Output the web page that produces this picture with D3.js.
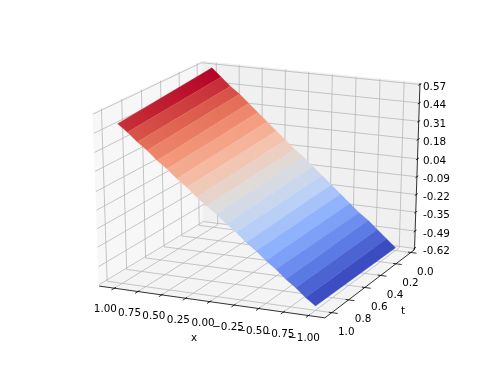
<!DOCTYPE html>
<html lang="en">
<head>
<meta charset="utf-8">
<title>Surface u(x, t)</title>
<script src="https://cdn.jsdelivr.net/npm/d3@7"></script>
<style>
  body { margin: 0; background: #fff; }
  svg { filter: blur(0.3px); }
  text { font-family: "DejaVu Sans", sans-serif; font-size: 10.4px; fill: #000; }
</style>
</head>
<body>
<script>
// surface values, one row per end of the t range
var xValues = [1.0, 0.9, 0.8, 0.7, 0.6, 0.5, 0.4, 0.3, 0.2, 0.1, 0.0, -0.1, -0.2, -0.3, -0.4, -0.5, -0.6, -0.7, -0.8, -0.9, -1.0];
var tValues = [0, 1];
var zAtT0 = [0.56, 0.50, 0.44, 0.39, 0.33, 0.27, 0.21, 0.15, 0.09, 0.03, -0.02, -0.08, -0.14, -0.20, -0.26, -0.32, -0.38, -0.43, -0.49, -0.55, -0.61];
var zAtT1 = [0.49, 0.44, 0.38, 0.33, 0.27, 0.22, 0.16, 0.11, 0.05, 0.00, -0.05, -0.11, -0.16, -0.22, -0.27, -0.33, -0.38, -0.44, -0.49, -0.55, -0.60];

var xTicks = [1, 0.75, 0.5, 0.25, 0, -0.25, -0.5, -0.75, -1];
var xTickLabels = ["1.00", "0.75", "0.50", "0.25", "0.00", "\u22120.25", "\u22120.50", "\u22120.75", "\u22121.00"];
var tTicks = [0, 0.2, 0.4, 0.6, 0.8, 1];
var tTickLabels = ["0.0", "0.2", "0.4", "0.6", "0.8", "1.0"];
var zTicks = [0.57, 0.44, 0.31, 0.18, 0.04, -0.09, -0.22, -0.35, -0.49, -0.62];
var zTickLabels = ["0.57", "0.44", "0.31", "0.18", "0.04", "-0.09", "-0.22", "-0.35", "-0.49", "-0.62"];

var width = 498, height = 374;

// data to unit box
var xLim = [-1.163, 1.163], tLim = [-0.05, 1.08], zLim = [-0.63, 0.58];
var xBox = d3.scaleLinear().domain(xLim).range([-0.5, 0.5]);
var tBox = d3.scaleLinear().domain(tLim).range([-0.5, 0.5]);
var zBox = d3.scaleLinear().domain(zLim).range([-0.5, 0.5]);

// camera, same idea as mplot3d
var azim = 114 * Math.PI / 180, elev = 21 * Math.PI / 180, dist = 10;
var cx = 260.5, cy = 184, scaleX = 243, scaleY = 182;
var sa = Math.sin(azim), ca = Math.cos(azim), se = Math.sin(elev), ce = Math.cos(elev);

function project(x, t, z) {
    var a = xBox(x), b = tBox(t), c = zBox(z);
    var xv = -sa * a + ca * b;
    var yv = -ca * se * a - sa * se * b + ce * c;
    var d = dist - (ca * ce * a + sa * ce * b + se * c);
    return [cx + scaleX * dist * xv / d, cy - scaleY * dist * yv / d];
}

var coolwarm = d3.scaleLinear()
    .domain([0, 0.125, 0.25, 0.375, 0.5, 0.625, 0.75, 0.875, 1])
    .range(["#3b4cc0", "#6282ea", "#8db0fe", "#c0d4f5", "#dddddd", "#f5c4ad", "#f4987a", "#de604d", "#b40426"]);

var svg = d3.select("body").append("svg")
    .attr("width", width)
    .attr("height", height);
var defs = svg.append("defs");

var line = d3.line();

// panes
function pane(points, fill) {
    svg.append("path")
        .attr("d", line(points.map(function(p) { return project(p[0], p[1], p[2]); })) + "Z")
        .attr("fill", fill)
        .attr("stroke", fill)
        .attr("stroke-width", 1);
}
var x0 = xLim[0], x1 = xLim[1], t0 = tLim[0], t1 = tLim[1], z0 = zLim[0], z1 = zLim[1];
pane([[x1, t0, z0], [x1, t1, z0], [x1, t1, z1], [x1, t0, z1]], "#f7f7f7");
pane([[x0, t0, z0], [x1, t0, z0], [x1, t0, z1], [x0, t0, z1]], "#f0f0f0");
pane([[x0, t0, z0], [x1, t0, z0], [x1, t1, z0], [x0, t1, z0]], "#f4f4f4");

// grid lines
function grid(points) {
    svg.append("path")
        .attr("d", line(points.map(function(p) { return project(p[0], p[1], p[2]); })))
        .attr("fill", "none")
        .attr("stroke", "#b8b8b8")
        .attr("stroke-width", 0.8);
}
xTicks.forEach(function(v) { grid([[v, t1, z0], [v, t0, z0], [v, t0, z1]]); });
tTicks.forEach(function(v) { grid([[x0, v, z0], [x1, v, z0], [x1, v, z1]]); });
zTicks.forEach(function(v) { grid([[x1, t1, v], [x1, t0, v], [x0, t0, v]]); });

// axis lines
function axisLine(a, b) {
    var p = project(a[0], a[1], a[2]), q = project(b[0], b[1], b[2]);
    svg.append("line")
        .attr("x1", p[0]).attr("y1", p[1]).attr("x2", q[0]).attr("y2", q[1])
        .attr("stroke", "#000").attr("stroke-width", 0.8);
}
axisLine([x1, t1, z0], [x0, t1, z0]);
axisLine([x0, t1, z0], [x0, t0, z0]);
axisLine([x0, t0, z0], [x0, t0, z1]);

// ticks and labels, x labels drift a little along the axis
var xLabelDx = d3.scaleLinear().domain([1, -1]).range([-9, -4.5]);
var xLabelDy = d3.scaleLinear().domain([1, -1]).range([24, 25.4]);
xTicks.forEach(function(v, i) {
    axisLine([v, t1 - 0.015, z0], [v, t1 + 0.03, z0]);
    var p = project(v, t1, z0);
    svg.append("text").attr("x", p[0] + xLabelDx(v)).attr("y", p[1] + xLabelDy(v)).attr("text-anchor", "middle").text(xTickLabels[i]);
});
tTicks.forEach(function(v, i) {
    axisLine([x0 + 0.03, v, z0], [x0 - 0.06, v, z0]);
    var p = project(x0, v, z0);
    svg.append("text").attr("x", p[0] + 14.5).attr("y", p[1] + 22.5).attr("text-anchor", "middle").text(tTickLabels[i]);
});
zTicks.forEach(function(v, i) {
    axisLine([x0, t0 + 0.02, v], [x0, t0 - 0.02, v]);
    var p = project(x0, t0, v);
    svg.append("text").attr("x", 423).attr("y", p[1] + 5.5).text(zTickLabels[i]);
});

svg.append("text").attr("x", 194).attr("y", 341).attr("text-anchor", "middle").text("x");
svg.append("text").attr("x", 403).attr("y", 314).attr("text-anchor", "middle").text("t");

// surface, one quad per x step, colour runs along t inside each band
var quads = [];
for (var i = 0; i < xValues.length - 1; i++) {
    quads.push({
        id: "band" + i,
        corners: [
            project(xValues[i], tValues[0], zAtT0[i]),
            project(xValues[i + 1], tValues[0], zAtT0[i + 1]),
            project(xValues[i + 1], tValues[1], zAtT1[i + 1]),
            project(xValues[i], tValues[1], zAtT1[i])
        ],
        meanT0: (zAtT0[i] + zAtT0[i + 1]) / 2,
        meanT1: (zAtT1[i] + zAtT1[i + 1]) / 2
    });
}
var colorScale = d3.scaleLinear()
    .domain([d3.min(quads, function(d) { return Math.min(d.meanT0, d.meanT1); }),
             d3.max(quads, function(d) { return Math.max(d.meanT0, d.meanT1); })])
    .range([0, 1]);

quads.forEach(function(d) {
    var c = d.corners;
    var g = defs.append("linearGradient")
        .attr("id", d.id)
        .attr("gradientUnits", "userSpaceOnUse")
        .attr("x1", (c[0][0] + c[1][0]) / 2).attr("y1", (c[0][1] + c[1][1]) / 2)
        .attr("x2", (c[2][0] + c[3][0]) / 2).attr("y2", (c[2][1] + c[3][1]) / 2);
    g.append("stop").attr("offset", 0).attr("stop-color", coolwarm(colorScale(d.meanT0)));
    g.append("stop").attr("offset", 1).attr("stop-color", coolwarm(colorScale(d.meanT1)));
});

svg.selectAll("path.quad")
    .data(quads)
    .enter()
    .append("path")
    .attr("class", "quad")
    .attr("d", function(d) { return line(d.corners) + "Z"; })
    .attr("fill", function(d) { return "url(#" + d.id + ")"; })
    .attr("stroke", function(d) { return "url(#" + d.id + ")"; })
    .attr("stroke-width", 0.3);
</script>
</body>
</html>
